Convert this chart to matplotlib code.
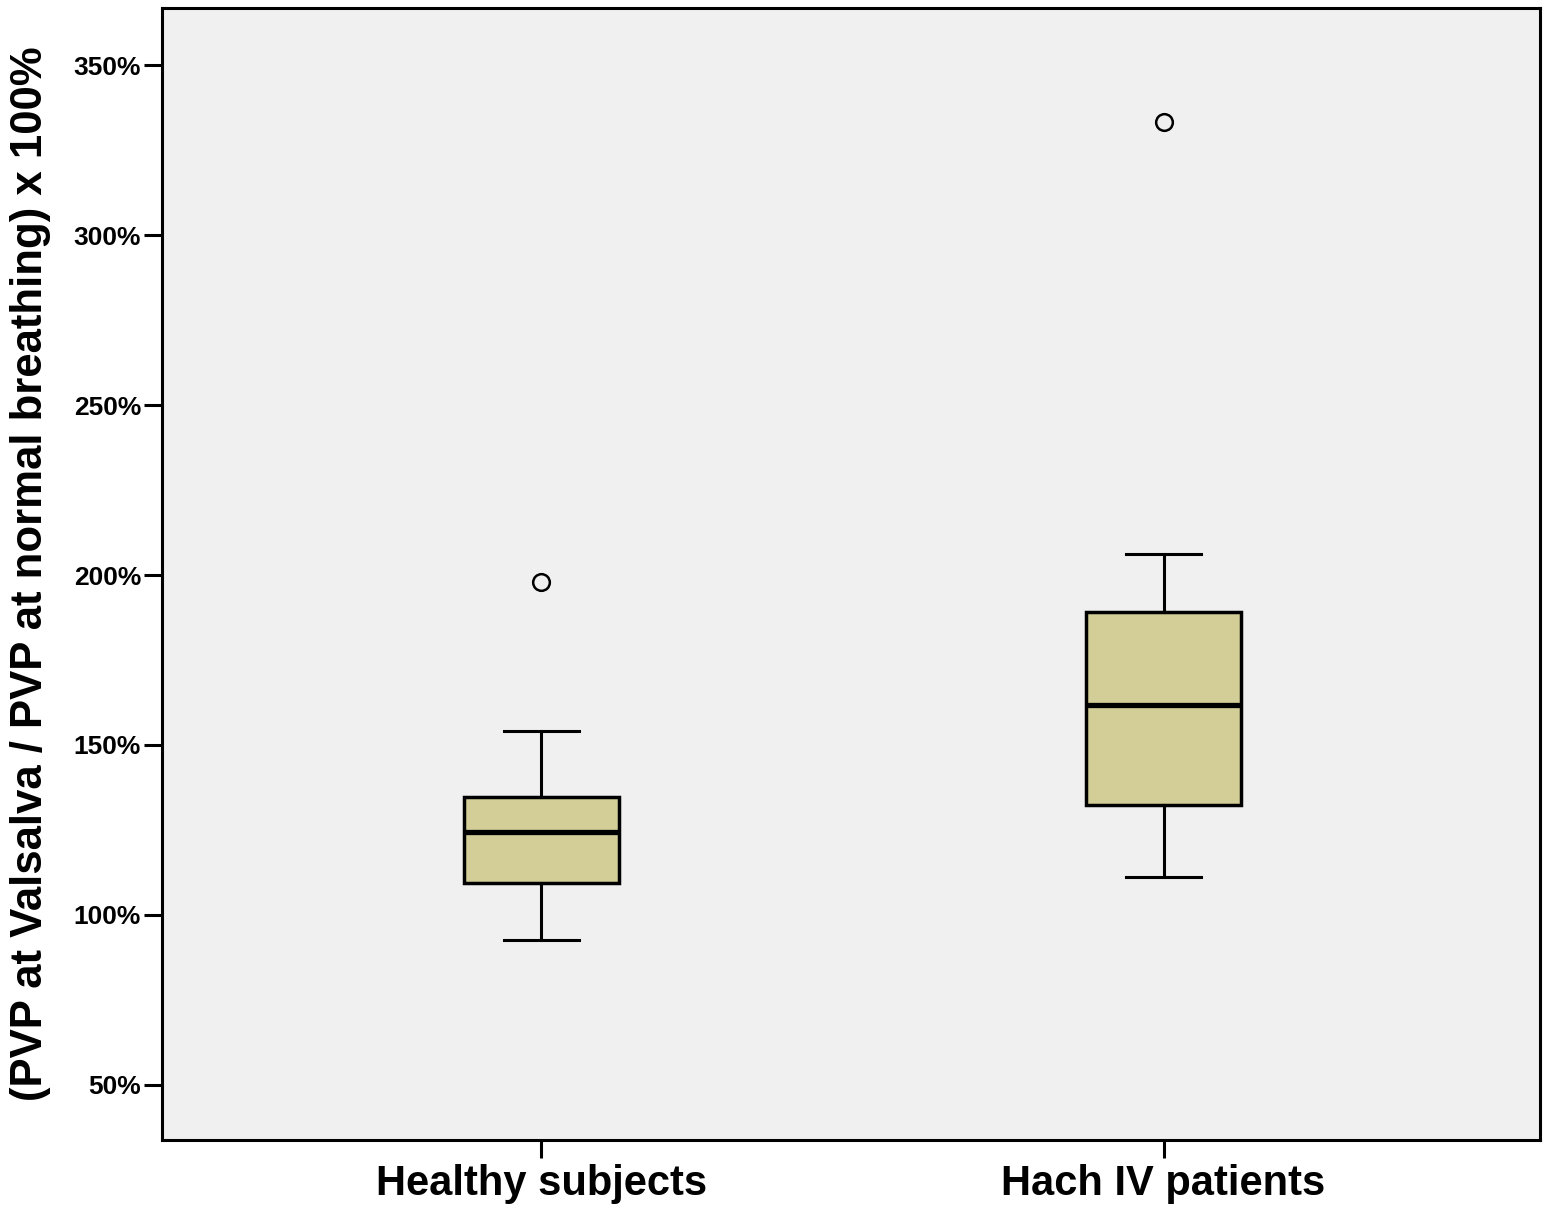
import matplotlib.pyplot as plt
from matplotlib.ticker import FuncFormatter

plt.rcParams['font.family'] = ['Liberation Sans', 'DejaVu Sans']

# box statistics (percent)
groups = ['Healthy subjects', 'Hach IV patients']
whislo = [92.6, 111.2]
q1 = [109.4, 132.4]
med = [124.4, 161.8]
q3 = [134.7, 189.1]
whishi = [154.1, 206.2]
fliers = [[197.9], [333.2]]

stats = []
for i in range(len(groups)):
    stats.append({'label': groups[i], 'whislo': whislo[i], 'q1': q1[i], 'med': med[i],
                  'q3': q3[i], 'whishi': whishi[i], 'fliers': fliers[i]})

fig = plt.figure(figsize=(15.43, 12.06), dpi=100)
ax = fig.add_axes([0.105, 0.0547, 0.893, 0.9387])
ax.set_facecolor('#f0f0f0')

ax.bxp(stats, positions=[1, 2], widths=0.25, capwidths=0.12, patch_artist=True,
       boxprops=dict(facecolor='#d3ce97', edgecolor='k', linewidth=2.5),
       medianprops=dict(color='k', linewidth=3.8),
       whiskerprops=dict(color='k', linewidth=2.2),
       capprops=dict(color='k', linewidth=2.2),
       flierprops=dict(marker='o', markersize=12, markerfacecolor='none',
                       markeredgecolor='k', markeredgewidth=1.8))

ax.set_xlim(0.39, 2.605)
ax.set_ylim(33.8, 366.8)
ax.set_yticks([50, 100, 150, 200, 250, 300, 350])
ax.yaxis.set_major_formatter(FuncFormatter(lambda v, p: '%d%%' % v))
ax.set_xticks([1, 2])
ax.set_xticklabels(groups, fontsize=30, fontweight='bold')
for lab in ax.get_yticklabels():
    lab.set_fontsize(19)
    lab.set_fontweight('bold')
ax.tick_params(axis='both', length=13, width=2.2, color='k', direction='out', pad=2)
ax.tick_params(axis='x', pad=4)
for s in ax.spines.values():
    s.set_linewidth(2.2)
    s.set_color('k')

ax.set_ylabel('(PVP at Valsalva / PVP at normal breathing) x 100%', fontsize=31.5,
              fontweight='bold', labelpad=16)

fig.savefig('out.png', dpi=100)
